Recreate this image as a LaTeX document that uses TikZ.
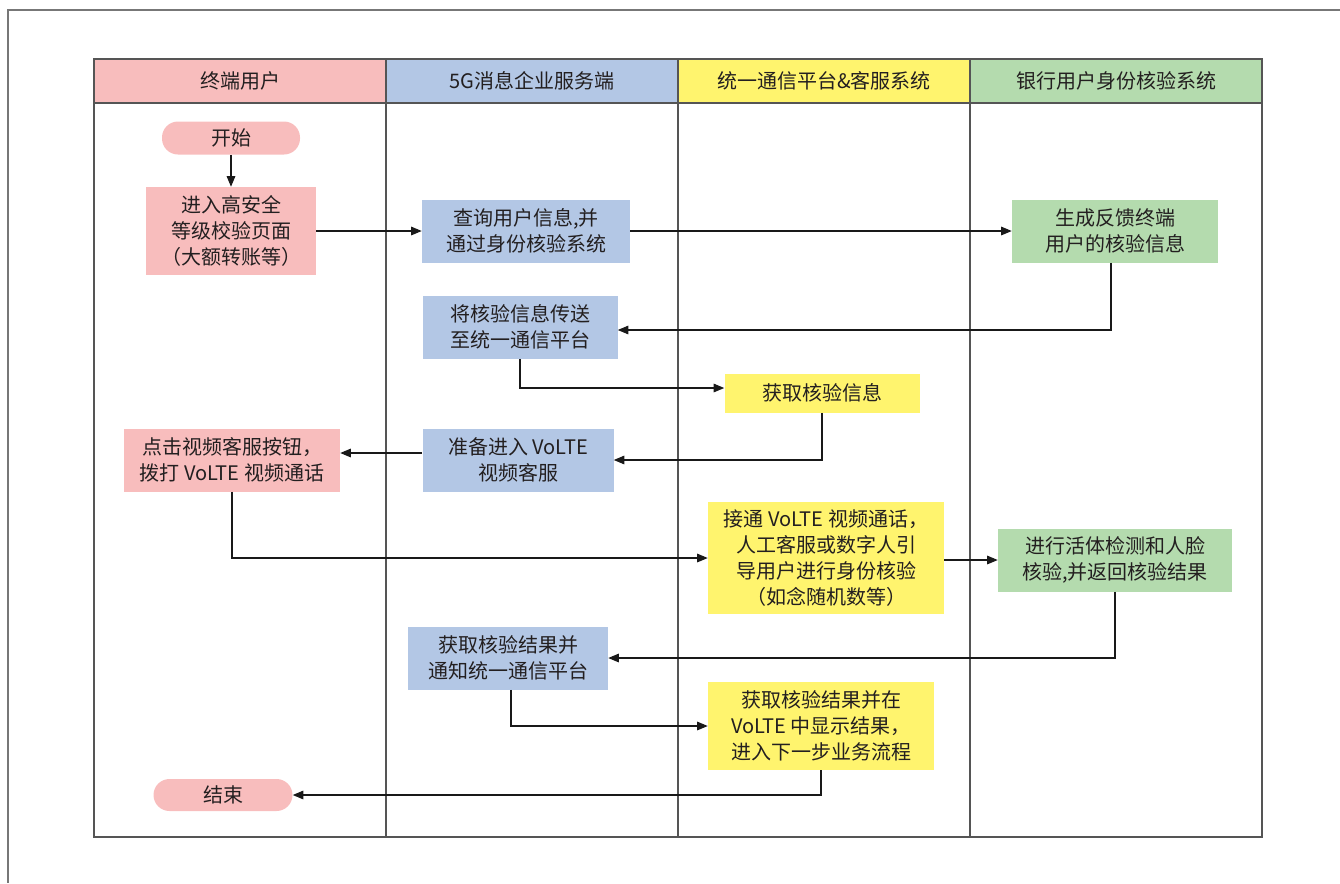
\documentclass[tikz,border=0pt]{standalone}
\usepackage{fontspec}
\setmainfont{Noto Sans CJK SC}
\usetikzlibrary{arrows.meta,positioning}
\definecolor{cpink}{HTML}{F8BDBD}
\definecolor{cblue}{HTML}{B3C7E5}
\definecolor{cyellow}{HTML}{FFF46E}
\definecolor{cgreen}{HTML}{B4DBAE}
\definecolor{cgrid}{HTML}{555555}
\definecolor{ctext}{HTML}{231F20}
\begin{document}
\begin{tikzpicture}[x=0.75pt,y=-0.75pt,
  every node/.style={text=ctext},
  gridline/.style={draw=cgrid,line width=1pt},
  frameline/.style={draw=cgrid!80,line width=1pt},
  hdr/.style={font=\fontsize{15}{19.5}\selectfont,anchor=center},
  box/.style={inner sep=0pt,align=center,font=\fontsize{15}{19.5}\selectfont},
  pill/.style={box,rounded corners=12pt},
  conn/.style={draw=black!90,line width=0.8pt,-{Triangle[length=8pt,width=6.5pt]}}
]
\useasboundingbox (0,0) rectangle (1340,883);
% outer page frame
\draw[frameline] (7,10) -- (1340,10);
\draw[frameline] (8,10) -- (8,883);
% header fills
\fill[cpink] (94,59) rectangle (386,103);
\fill[cblue] (386,59) rectangle (678,103);
\fill[cyellow] (678,59) rectangle (970,103);
\fill[cgreen] (970,59) rectangle (1262,103);
% grid
\draw[gridline] (94,59) rectangle (1262,837);
\draw[gridline] (94,103) -- (1262,103);
\foreach \x in {386,678,970} \draw[gridline] (\x,59) -- (\x,837);
% headers
\node[hdr] (h1) at (240,81) {终端用户};
\node[hdr] (h2) at (532,81) {5G消息企业服务端};
\node[hdr] (h3) at (824,81) {统一通信平台\&客服系统};
\node[hdr] (h4) at (1116,81) {银行用户身份核验系统};
% nodes
\node[pill,fill=cpink,minimum width=138*0.75pt,minimum height=33*0.75pt] (start) at (231,138) {开始};
\node[box,fill=cpink,minimum width=170*0.75pt,minimum height=88*0.75pt] (n1) at (231,231) {进入高安全\\等级校验页面\\（大额转账等）};
\node[box,fill=cblue,minimum width=208*0.75pt,minimum height=63*0.75pt] (n2) at (526,231) {查询用户信息,并\\通过身份核验系统};
\node[box,fill=cgreen,minimum width=206*0.75pt,minimum height=63*0.75pt] (n3) at (1115,231) {生成反馈终端\\用户的核验信息};
\node[box,fill=cblue,minimum width=195*0.75pt,minimum height=63*0.75pt] (n4) at (520,327) {将核验信息传送\\至统一通信平台};
\node[box,fill=cyellow,minimum width=195*0.75pt,minimum height=39*0.75pt] (n5) at (822,393) {获取核验信息};
\node[box,fill=cblue,minimum width=191*0.75pt,minimum height=63*0.75pt] (n6) at (518,460) {准备进入 VoLTE\\视频客服};
\node[box,fill=cpink,minimum width=216*0.75pt,minimum height=63*0.75pt] (n7) at (232,460) {点击视频客服按钮，\\拨打 VoLTE 视频通话};
\node[box,fill=cyellow,minimum width=236*0.75pt,minimum height=112*0.75pt] (n8) at (826,558) {接通 VoLTE 视频通话，\\人工客服或数字人引\\导用户进行身份核验\\（如念随机数等）};
\node[box,fill=cgreen,minimum width=234*0.75pt,minimum height=63*0.75pt] (n9) at (1115,560) {进行活体检测和人脸\\核验,并返回核验结果};
\node[box,fill=cblue,minimum width=200*0.75pt,minimum height=63*0.75pt] (n10) at (508,658) {获取核验结果并\\通知统一通信平台};
\node[box,fill=cyellow,minimum width=226*0.75pt,minimum height=88*0.75pt] (n11) at (821,726) {获取核验结果并在\\VoLTE 中显示结果，\\进入下一步业务流程};
\node[pill,fill=cpink,minimum width=139*0.75pt,minimum height=32*0.75pt] (end) at (223,795) {结束};
% connectors
\draw[conn] (start) -- (n1);
\draw[conn] (n1) -- (n2);
\draw[conn] (n2) -- (n3);
\draw[conn] (n3.south -| 1111,0) |- (n4.east |- 0,330);
\draw[conn] (n4.south) |- (n5.west |- 0,388);
\draw[conn] (n5.south) |- (n6.east);
\draw[conn] (n6.west |- 0,453) -- (n7.east |- 0,453);
\draw[conn] (n7.south) |- (n8.west);
\draw[conn] (n8.east |- 0,560) -- (n9.west);
\draw[conn] (n9.south) |- (n10.east);
\draw[conn] (n10.south -| 511,0) |- (n11.west);
\draw[conn] (n11.south) |- (end.east);
\end{tikzpicture}
\end{document}
